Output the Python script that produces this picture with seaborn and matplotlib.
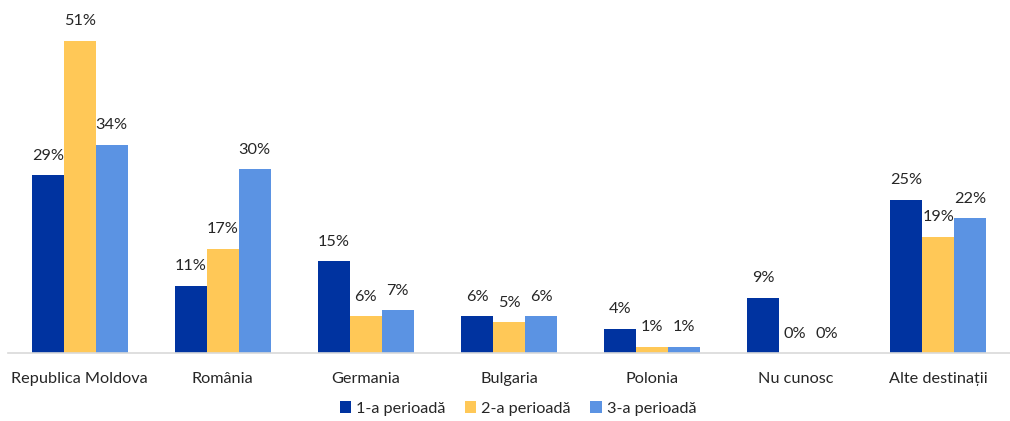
import matplotlib
matplotlib.use("Agg")
import matplotlib.pyplot as plt
import seaborn as sns
import pandas as pd

categories = ["Republica Moldova", "România", "Germania", "Bulgaria", "Polonia", "Nu cunosc", "Alte destinații"]
series_names = ["1-a perioadă", "2-a perioadă", "3-a perioadă"]
s1 = [29, 11, 15, 6, 4, 9, 25]
s2 = [51, 17, 6, 5, 1, 0, 19]
s3 = [34, 30, 7, 6, 1, 0, 22]
colors = ["#0033A0", "#FFC857", "#5B93E3"]

rows = []
for name, vals in zip(series_names, [s1, s2, s3]):
    for c, v in zip(categories, vals):
        rows.append({"cat": c, "series": name, "val": v})
df = pd.DataFrame(rows)

sns.set_theme(style="white")
plt.rcParams["font.family"] = ["Lato", "DejaVu Sans"]

fig = plt.figure(figsize=(10.10, 4.21), dpi=100)
ax = fig.add_axes([0.008, 0.1615, 0.992, 0.80])
sns.barplot(data=df, x="cat", y="val", hue="series", palette=colors,
            width=0.67, ax=ax, saturation=1, legend=True, linewidth=0)
ax.set_ylim(0, 55)
ax.set_xlim(-0.5, 6.5)
for cont in ax.containers:
    ax.bar_label(cont, labels=[f"{int(v)}%" for v in cont.datavalues],
                 padding=9, fontsize=11.7, color="#262626")
ax.set_xlabel("")
ax.set_ylabel("")
ax.set_yticks([])
ax.tick_params(axis="x", labelsize=11.7, colors="#262626", length=0, pad=14)
for s in ["top", "right", "left"]:
    ax.spines[s].set_visible(False)
ax.spines["bottom"].set_color("#D9D9D9")
ax.spines["bottom"].set_linewidth(1.2)

leg = ax.legend(loc="center", bbox_to_anchor=(0.509, -0.165), ncol=3,
                frameon=False, fontsize=11.7, handlelength=0.7, handleheight=0.7,
                handletextpad=0.3, columnspacing=1.2)
for t in leg.get_texts():
    t.set_color("#262626")

fig.savefig("out.png", dpi=100)
